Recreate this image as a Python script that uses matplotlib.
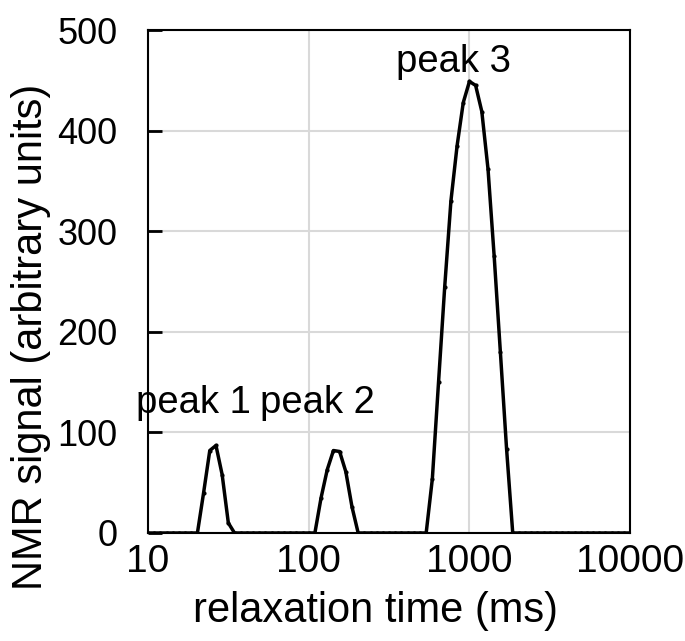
import matplotlib.pyplot as plt
import numpy as np

plt.rcParams['font.family'] = ['Liberation Sans', 'DejaVu Sans']

# relaxation time grid (ms), 26 points per decade from 10 to 10000
t2 = np.logspace(1, 4, 79)

signal = [0, 0, 0, 0, 0, 0, 0, 0,
          0, 40, 82, 87, 58, 10, 0,
          0, 0, 0, 0, 0, 0, 0, 0, 0, 0, 0, 0,
          0, 35, 63, 82, 81, 61, 26, 0,
          0, 0, 0, 0, 0, 0, 0, 0, 0, 0,
          0, 54, 150, 245, 330, 385, 428, 449, 445, 419, 362, 275, 180, 84, 0,
          0, 0, 0, 0, 0, 0, 0, 0, 0, 0, 0, 0, 0, 0, 0, 0, 0, 0, 0]

peak_names = ['peak 1', 'peak 2', 'peak 3']
peak_x = [19.2, 113, 791]
peak_y = [129, 129, 468]

fig = plt.figure(figsize=(6.85, 6.41), dpi=100)
ax = fig.add_axes([0.216, 0.1685, 0.704, 0.7845])

ax.plot(t2, signal, color='black', lw=2.5, marker='.', ms=4)

for name, x, y in zip(peak_names, peak_x, peak_y):
    ax.text(x, y, name, fontsize=27.5, ha='center', va='center')

ax.set_xscale('log')
ax.set_xlim(10, 10000)
ax.set_ylim(0, 500)
ax.set_xticks([10, 100, 1000, 10000])
ax.set_xticklabels(['10', '100', '1000', '10000'])
ax.minorticks_off()
ax.set_yticks([0, 100, 200, 300, 400, 500])
ax.grid(True, color='#d9d9d9', lw=1.5)
ax.set_axisbelow(True)

ax.tick_params(axis='y', direction='in', length=10, width=2, labelsize=26, pad=22)
ax.tick_params(axis='x', length=0, labelsize=28, pad=8)
for s in ax.spines.values():
    s.set_linewidth(1.5)

ax.set_xlabel('relaxation time (ms)', fontsize=30)
ax.set_ylabel('NMR signal (arbitrary units)', fontsize=30)
ax.xaxis.set_label_coords(0.471, -0.115)
ax.yaxis.set_label_coords(-0.202, 0.39)

fig.savefig('out.png')
